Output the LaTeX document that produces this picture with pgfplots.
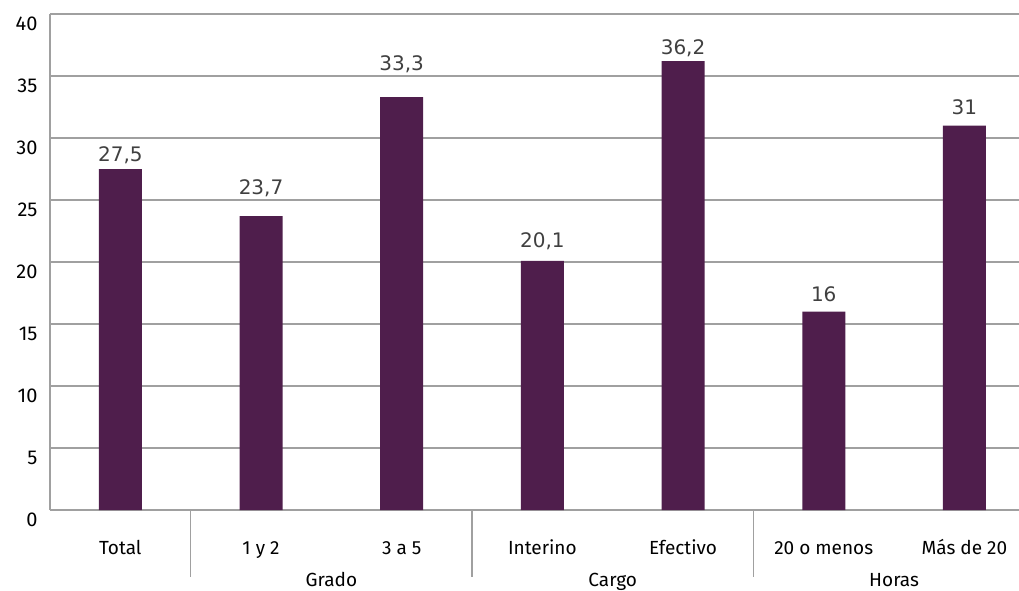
\documentclass[border=0pt]{standalone}
\usepackage{pgfplots}
\usepackage{pgfplotstable}
\pgfplotsset{compat=1.18}
\usepackage{fontspec}
\setmainfont{Fira Sans}
\newfontfamily\valfont{DejaVu Sans}
\definecolor{barc}{HTML}{4F1E4C}
\definecolor{gridc}{HTML}{A0A0A0}
\definecolor{valc}{HTML}{404040}
\pgfplotstableread{
x y off
0 27.5 8
1 23.7 22
2 33.3 27
3 20.1 13
4 36.2 7
5 16 10
6 31 11
}\datatable
\begin{document}
\begin{tikzpicture}[x=1pt,y=1pt]
\useasboundingbox (-50,-80) rectangle (969,510);
\begin{axis}[
  at={(0,0)}, anchor=south west,
  scale only axis, width=969pt, height=496pt,
  xmin=-0.5, xmax=6.388, ymin=0, ymax=40,
  ytick={0,5,...,40},
  xtick={0,...,6},
  xticklabels={Total,1 y 2,3 a 5,Interino,Efectivo,20 o menos,Más de 20},
  major tick length=0pt,
  axis lines*=left,
  axis line style={gridc, line width=1.3pt},
  ymajorgrids, grid style={gridc, line width=1.3pt},
  ybar, bar width=43pt,
  xticklabel style={font=\fontsize{19}{22}\selectfont, text=black, anchor=base, yshift=-44pt},
  yticklabel style={font=\fontsize{20}{22}\selectfont, text=black, anchor=east, yshift=-10pt, xshift=-9pt},
  /pgf/number format/assume math mode=true,
  visualization depends on={\thisrow{off} \as \offv},
  nodes near coords={\pgfmathprintnumber[fixed,precision=1,use comma]{\pgfplotspointmeta}},
  every node near coord/.append style={font=\valfont\fontsize{20}{24}\selectfont, text=valc, anchor=base, yshift=\offv pt},
  clip=false,
]
\addplot[fill=barc, draw=none] table[x=x, y=y] {\datatable};
\draw[gridc, line width=1.3pt] (axis cs:0.5,0) -- ([yshift=-67pt]axis cs:0.5,0);
\draw[gridc, line width=1.3pt] (axis cs:2.5,0) -- ([yshift=-67pt]axis cs:2.5,0);
\draw[gridc, line width=1.3pt] (axis cs:4.5,0) -- ([yshift=-67pt]axis cs:4.5,0);
\node[font=\fontsize{19}{22}\selectfont, anchor=base] at ([yshift=-76pt]axis cs:1.5,0) {Grado};
\node[font=\fontsize{19}{22}\selectfont, anchor=base] at ([yshift=-76pt]axis cs:3.5,0) {Cargo};
\node[font=\fontsize{19}{22}\selectfont, anchor=base] at ([yshift=-76pt]axis cs:5.5,0) {Horas};
\end{axis}
\end{tikzpicture}
\end{document}
